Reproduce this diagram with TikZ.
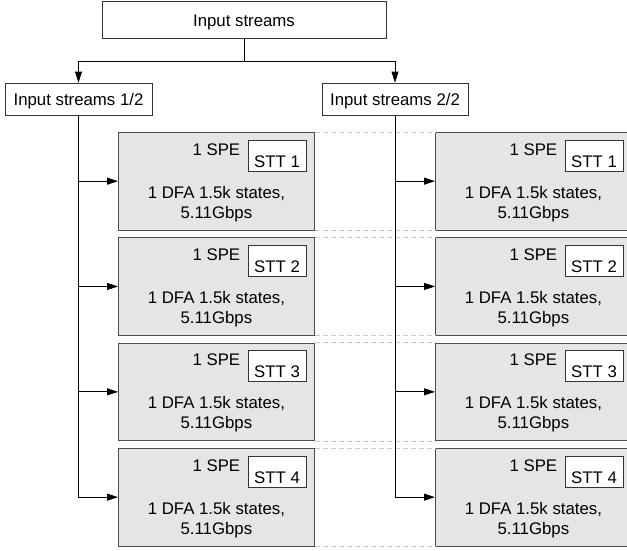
\documentclass[tikz,border=0pt]{standalone}
\usepackage{fontspec}
\setmainfont{Liberation Sans}
\usetikzlibrary{arrows.meta}
\begin{document}
\begin{tikzpicture}[x=1pt,y=-1pt,
  font=\fontsize{16.8}{20}\selectfont,
  box/.style={draw=black!80, line width=0.8pt, inner sep=0pt, text height=12pt, text depth=0pt},
  module/.style={draw=black!70, fill=black!10, line width=0.8pt, minimum width=196pt,
    minimum height=97.5pt, inner sep=0pt, anchor=north west},
  stt/.style={draw=black!80, fill=white, line width=0.8pt, minimum width=58pt,
    minimum height=31pt, inner sep=0pt, text height=23pt, text depth=0pt},
  label/.style={anchor=base, inner sep=0pt},
  wire/.style={line width=0.8pt},
  flow/.style={line width=0.8pt, -{Triangle[length=11pt,width=7pt]}},
  guide/.style={draw=black!20, line width=0.8pt, dash pattern=on 5pt off 3pt}]

\useasboundingbox (0,0) rectangle (627,550);
\clip (0,0) rectangle (627,550);

% stream splitter
\node[box, minimum width=284pt, minimum height=37pt, text height=13pt] (all) at (244,19.5) {Input streams};
\node[box, minimum width=147pt, minimum height=32pt] (half1) at (78.5,99) {Input streams 1/2};
\node[box, minimum width=146pt, minimum height=32pt] (half2) at (395,99) {Input streams 2/2};

% processing elements, two columns of four
\foreach \i/\y in {1/132, 2/237.3, 3/342.7, 4/448} {
  \foreach \c/\x in {1/118, 2/435} {
    \node[module] (m\c\i) at (\x,\y) {};
    \node[label] (spe\c\i) at ([yshift=-23pt]m\c\i.north) {1 SPE};
    \node[stt] (stt\c\i) at ([xshift=159pt,yshift=-23.5pt]m\c\i.north west) {STT \i};
    \node[label] (dfa\c\i) at ([yshift=-66pt]m\c\i.north) {1 DFA 1.5k states,};
    \node[label] (rate\c\i) at ([yshift=-86pt]m\c\i.north) {5.11Gbps};
  }
}

% dashed guides between matching rows
\foreach \i in {1,2,3,4} {
  \draw[guide] (m1\i.north east) -- (m2\i.north west);
  \draw[guide] (m1\i.south east) -- (m2\i.south west);
}

% connectors
\coordinate (split) at (244,61);
\draw[wire] (all.south) -- (split);
\draw[flow] (split) -| (half1.north);
\draw[flow] (split) -| (half2.north);
\foreach \c in {1,2} {
  \foreach \i in {1,2,3} {
    \draw[flow] (half\c.south |- m\c\i.west) -- (m\c\i.west);
  }
  \draw[flow] (half\c.south) |- (m\c4.west);
}
\end{tikzpicture}
\end{document}
